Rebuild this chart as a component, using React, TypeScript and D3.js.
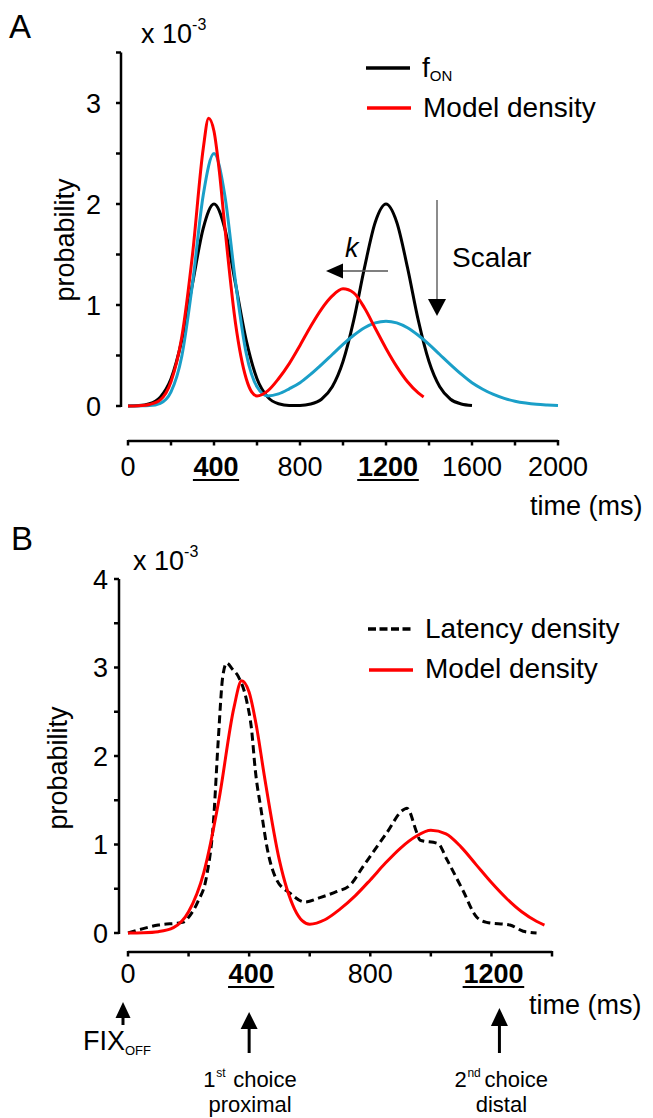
import React from "react";
import * as d3 from "d3";

// ---------- Panel A data (values in units of 1e-3) ----------
const fOn: [number, number][] = [
  [0, 0.001], [50, 0.004], [100, 0.022], [150, 0.088], [200, 0.27], [250, 0.65], [300, 1.21],
  [350, 1.76], [400, 2.0], [450, 1.76], [500, 1.21], [550, 0.65], [600, 0.27], [650, 0.088],
  [700, 0.022], [750, 0.006], [800, 0.006], [850, 0.02], [900, 0.067], [950, 0.19], [1000, 0.44],
  [1050, 0.85], [1100, 1.37], [1150, 1.82], [1200, 2.0], [1250, 1.82], [1300, 1.37], [1350, 0.85],
  [1400, 0.44], [1450, 0.19], [1500, 0.067], [1550, 0.02], [1600, 0.005],
];

const modelDensity: [number, number][] = [
  [0, 0], [50, 0.003], [100, 0.015], [150, 0.06], [200, 0.24], [250, 0.68], [300, 1.5],
  [350, 2.55], [375, 2.85], [400, 2.72], [425, 2.32], [450, 1.78], [500, 0.82], [550, 0.27],
  [575, 0.14], [600, 0.1], [650, 0.15], [700, 0.27], [750, 0.42], [800, 0.6], [850, 0.79],
  [900, 0.96], [950, 1.09], [1000, 1.16], [1050, 1.12], [1100, 0.97], [1150, 0.77], [1200, 0.57],
  [1250, 0.39], [1300, 0.24], [1350, 0.13], [1375, 0.09],
];

const scalarDensity: [number, number][] = [
  [0, 0], [50, 0.001], [100, 0.004], [150, 0.027], [200, 0.14], [250, 0.49], [300, 1.21],
  [350, 2.09], [400, 2.5], [450, 2.09], [500, 1.23], [550, 0.52], [600, 0.19], [650, 0.1],
  [700, 0.12], [750, 0.17], [800, 0.23], [850, 0.315], [900, 0.41], [950, 0.51], [1000, 0.61],
  [1050, 0.7], [1100, 0.775], [1150, 0.823], [1200, 0.84], [1250, 0.823], [1300, 0.775],
  [1350, 0.7], [1400, 0.61], [1450, 0.51], [1500, 0.41], [1550, 0.315], [1600, 0.23],
  [1650, 0.166], [1700, 0.114], [1750, 0.075], [1800, 0.047], [1850, 0.029], [1900, 0.017],
  [1950, 0.01], [2000, 0.005],
];

// ---------- Panel B data ----------
const latencyDensity: [number, number][] = [
  [0, 0], [50, 0.05], [100, 0.09], [180, 0.12], [205, 0.2], [230, 0.35], [260, 0.65],
  [282, 1.25], [298, 2.18], [313, 2.9], [326, 3.05], [345, 2.98], [364, 2.9], [392, 2.62],
  [408, 2.3], [420, 1.85], [440, 1.38], [460, 0.95], [491, 0.6], [535, 0.45], [584, 0.35],
  [634, 0.4], [690, 0.47], [733, 0.54], [776, 0.75], [854, 1.13], [908, 1.39], [921, 1.41],
  [954, 1.13], [964, 1.05], [1024, 1.01], [1053, 0.83], [1106, 0.48], [1151, 0.18],
  [1184, 0.12], [1261, 0.09], [1305, 0.02], [1349, 0],
];

// ---------- Ticks ----------
const aXTicks = [0, 200, 400, 600, 800, 1000, 1200, 1400, 1600, 1800, 2000];
const aXLabels = [0, 400, 800, 1200, 1600, 2000];
const aYTicks = [0, 0.5, 1, 1.5, 2, 2.5, 3, 3.5];
const aYLabels = [0, 1, 2, 3];
const bXTicks = [0, 200, 400, 600, 800, 1000, 1200, 1400];
const bXLabels = [0, 400, 800, 1200];
const bYTicks = [0, 0.5, 1, 1.5, 2, 2.5, 3, 3.5, 4];
const bYLabels = [0, 1, 2, 3, 4];
const boldLabels = [400, 1200];

const FONT = "'Liberation Sans', Arial, Helvetica, sans-serif";
const RED = "#ff0000";
const CYAN = "#1a9fc8";

const xA = d3.scaleLinear().domain([0, 2000]).range([128, 558]);
const yA = d3.scaleLinear().domain([0, 3.5]).range([406, 52.5]);
const xB = d3.scaleLinear().domain([0, 1400]).range([128, 552]);
const yB = d3.scaleLinear().domain([0, 4]).range([933, 579]);

function linePath(data: [number, number][], x: any, y: any) {
  return (
    d3
      .line<[number, number]>()
      .x((d) => x(d[0]))
      .y((d) => y(d[1]))
      .curve(d3.curveMonotoneX)(data) || ""
  );
}

function XAxis({ x, ticks, labels, y0, labelY }: any) {
  const [a, b] = x.domain();
  return (
    <g>
      <line x1={x(a)} x2={x(b)} y1={y0} y2={y0} stroke="#000" strokeWidth={2.5} />
      {ticks.map((t: number) => (
        <line key={t} x1={x(t)} x2={x(t)} y1={y0 - 1} y2={y0 + 4.5} stroke="#000" strokeWidth={2.5} />
      ))}
      {labels.map((t: number) => {
        const bold = boldLabels.includes(t);
        const w = String(t).length * 15.4;
        return (
          <g key={t}>
            <text
              x={x(t) + (bold ? 2 : 0)}
              y={labelY}
              textAnchor="middle"
              fontSize={27}
              fontWeight={bold ? "bold" : "normal"}
              fontFamily={FONT}
            >
              {t}
            </text>
            {bold && (
              <line
                x1={x(t) + 2 - w / 2}
                x2={x(t) + 2 + w / 2}
                y1={labelY + 4}
                y2={labelY + 4}
                stroke="#000"
                strokeWidth={2}
              />
            )}
          </g>
        );
      })}
    </g>
  );
}

function YAxis({ y, ticks, labels, x0, labelX }: any) {
  const [a, b] = y.domain();
  return (
    <g>
      <line x1={x0} x2={x0} y1={y(a) + 1} y2={y(b)} stroke="#000" strokeWidth={2.5} />
      {ticks.map((t: number) => (
        <line key={t} x1={x0 - 5} x2={x0} y1={y(t)} y2={y(t)} stroke="#000" strokeWidth={2.5} />
      ))}
      {labels.map((t: number) => (
        <text key={t} x={labelX} y={y(t) + 9.5} textAnchor="end" fontSize={27} fontFamily={FONT}>
          {t}
        </text>
      ))}
    </g>
  );
}

function UpArrow({ x, tip, base, end, hw }: any) {
  return (
    <g>
      <line x1={x} x2={x} y1={base - 1} y2={end} stroke="#000" strokeWidth={3} />
      <path d={`M${x},${tip} L${x - hw},${base} L${x + hw},${base} Z`} fill="#000" />
    </g>
  );
}

function ChoiceLabel({ cx, num, sup, line2 }: any) {
  // "1st choice" laid out as separate pieces so nothing overlaps
  const left = cx - 47;
  return (
    <g fontFamily={FONT}>
      <text x={left} y={1087} fontSize={22}>{num}</text>
      <text x={left + 13} y={1077} fontSize={12}>{sup}</text>
      <text x={left + 30} y={1087} fontSize={22}>choice</text>
      <text x={cx} y={1112} textAnchor="middle" fontSize={22}>{line2}</text>
    </g>
  );
}

export default function App() {
  return (
    <svg
      width={653}
      height={1118}
      style={{ position: "absolute", left: 0, top: 0, background: "#fff", display: "block" }}
      fontFamily={FONT}
    >
      <rect x={0} y={0} width={653} height={1118} fill="#fff" />
      {/* ================= Panel A ================= */}
      <text x={9} y={38} fontSize={33} fontFamily={FONT}>A</text>
      <text x={141} y={43} fontSize={27} fontFamily={FONT}>
        x 10<tspan fontSize={16} dy={-13}>-3</tspan>
      </text>
      <text
        transform="translate(74,240) rotate(-90)"
        textAnchor="middle"
        fontSize={27}
        fontFamily={FONT}
      >
        probability
      </text>
      <YAxis y={yA} ticks={aYTicks} labels={aYLabels} x0={121} labelX={101} />
      <XAxis x={xA} ticks={aXTicks} labels={aXLabels} y0={441} labelY={476} />
      <text x={530} y={515} fontSize={27} fontFamily={FONT}>time (ms)</text>

      <path d={linePath(fOn, xA, yA)} fill="none" stroke="#000" strokeWidth={3} />
      <path d={linePath(scalarDensity, xA, yA)} fill="none" stroke={CYAN} strokeWidth={3} />
      <path d={linePath(modelDensity, xA, yA)} fill="none" stroke={RED} strokeWidth={3} />

      {/* legend A */}
      <line x1={366} x2={410} y1={68} y2={68} stroke="#000" strokeWidth={3.5} />
      <text x={422} y={77} fontSize={28} fontFamily={FONT}>
        f<tspan fontSize={15} dy={4}>ON</tspan>
      </text>
      <line x1={367} x2={411} y1={108} y2={108} stroke={RED} strokeWidth={3.5} />
      <text x={423} y={117} fontSize={28} fontFamily={FONT}>Model density</text>

      {/* k arrow */}
      <line x1={388} x2={340} y1={271} y2={271} stroke="#555" strokeWidth={1.5} />
      <path d="M326,271 L343,263.5 L343,278.5 Z" fill="#000" />
      <text x={345} y={257} fontSize={27} fontStyle="italic" fontFamily={FONT}>k</text>

      {/* Scalar arrow */}
      <line x1={437} x2={437} y1={200} y2={302} stroke="#666" strokeWidth={1.5} />
      <path d="M437,316 L428,299 L446,299 Z" fill="#000" />
      <text x={452} y={267} fontSize={28} fontFamily={FONT}>Scalar</text>

      {/* ================= Panel B ================= */}
      <text x={11} y={550} fontSize={33} fontFamily={FONT}>B</text>
      <text x={133} y={570} fontSize={27} fontFamily={FONT}>
        x 10<tspan fontSize={16} dy={-13}>-3</tspan>
      </text>
      <text
        transform="translate(67,768) rotate(-90)"
        textAnchor="middle"
        fontSize={27}
        fontFamily={FONT}
      >
        probability
      </text>
      <YAxis y={yB} ticks={bYTicks} labels={bYLabels} x0={119} labelX={108} />
      <XAxis x={xB} ticks={bXTicks} labels={bXLabels} y0={952} labelY={983} />
      <text x={529} y={1014} fontSize={27} fontFamily={FONT}>time (ms)</text>

      <path
        d={linePath(latencyDensity, xB, yB)}
        fill="none"
        stroke="#000"
        strokeWidth={3}
        strokeDasharray="8,4.5"
      />
      <path d={linePath(modelDensity, xB, yB)} fill="none" stroke={RED} strokeWidth={3} />

      {/* legend B */}
      <line x1={368} x2={411} y1={629} y2={629} stroke="#000" strokeWidth={3.5} strokeDasharray="8,3.5" />
      <text x={425} y={638} fontSize={28} fontFamily={FONT}>Latency density</text>
      <line x1={369} x2={413} y1={670} y2={670} stroke={RED} strokeWidth={3.5} />
      <text x={425} y={678} fontSize={28} fontFamily={FONT}>Model density</text>

      {/* annotations */}
      <UpArrow x={xB(0) - 5} tip={1002} base={1018} end={1025} hw={7.5} />
      <text x={83} y={1050} fontSize={27} fontFamily={FONT}>FIX</text>
      <text x={125} y={1055} fontSize={13} fontFamily={FONT}>OFF</text>

      <UpArrow x={xB(400)} tip={1012} base={1029} end={1053} hw={8.5} />
      <ChoiceLabel cx={xB(400) + 1} num="1" sup="st" line2="proximal" />

      <UpArrow x={xB(1200) + 8} tip={1008} base={1026} end={1053} hw={8.5} />
      <ChoiceLabel cx={xB(1200) + 10} num="2" sup="nd" line2="distal" />
    </svg>
  );
}
